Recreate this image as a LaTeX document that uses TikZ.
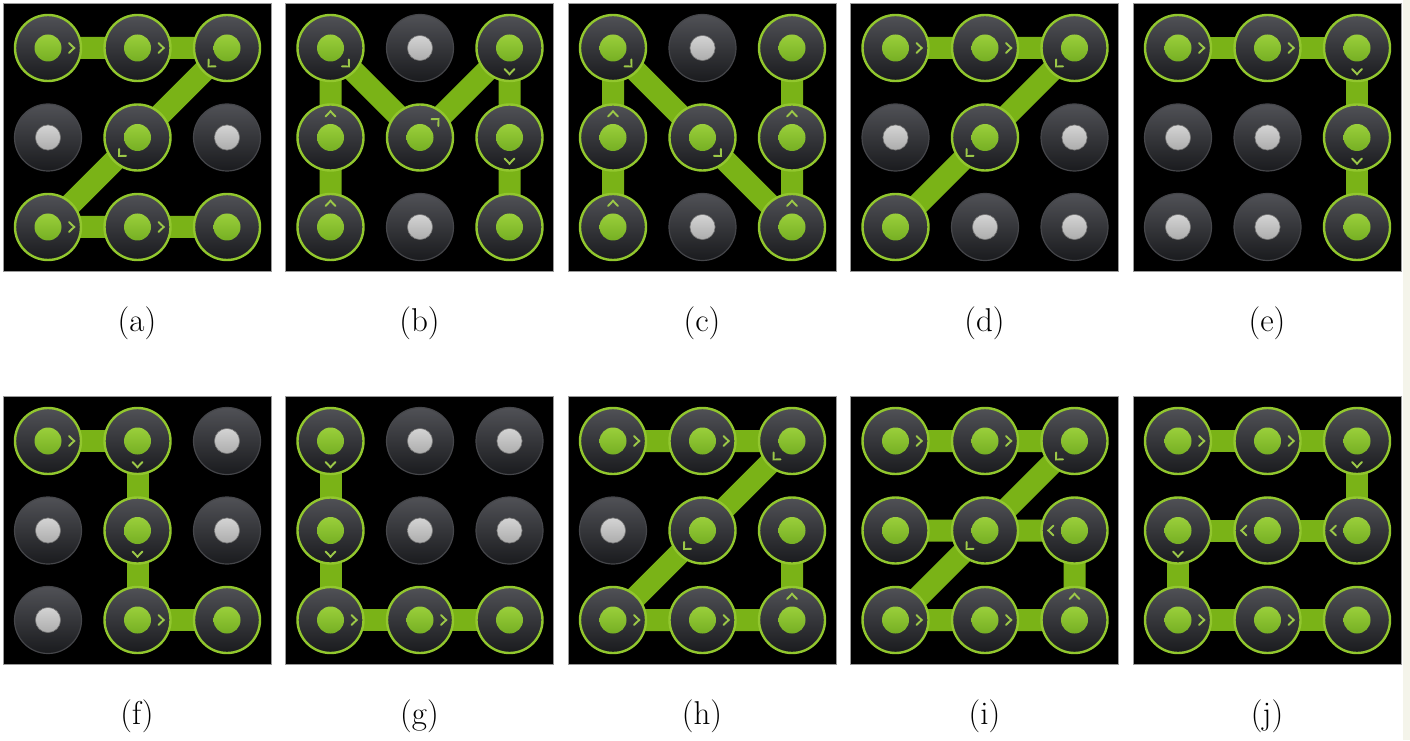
\documentclass[tikz,border=0pt]{standalone}
\definecolor{padframe}{HTML}{9A9A9A}
\definecolor{btntop}{HTML}{505156}
\definecolor{btnbot}{HTML}{1A1B1E}
\definecolor{btnrim}{HTML}{45464A}
\definecolor{ring}{HTML}{92C72E}
\definecolor{bandgreen}{HTML}{7AB317}
\definecolor{chevgreen}{HTML}{9CC848}
\definecolor{dottop}{HTML}{B4E64C}
\definecolor{dotmid}{HTML}{8FCB2A}
\definecolor{dotbot}{HTML}{5C9812}
\definecolor{greytop}{HTML}{F4F4F4}
\definecolor{greymid}{HTML}{C8C8C8}
\definecolor{greybot}{HTML}{8C8C8C}
\definecolor{edgestrip}{HTML}{F4F4EA}

\pgfdeclarelayer{back}
\pgfdeclarelayer{bands}
\pgfsetlayers{back,bands,main}

% one 3x3 lock pad: #1 name, #2 left edge, #3 top edge (measured from the top),
% #4 the nine cell states row by row (1 = selected), #5 caption letter
\newcommand\lockpad[5]{%
  \begin{pgfonlayer}{back}
    \filldraw[padbg] (#2,740-#3) rectangle ++(268,-268);
  \end{pgfonlayer}
  \foreach \s [count=\k from 0] in {#4} {%
    \pgfmathtruncatemacro\rr{div(\k,3)+1}%
    \pgfmathtruncatemacro\cc{mod(\k,3)+1}%
    \node[btn\s] (#1\rr\cc) at (#2+45+89.5*\cc-89.5, 740-#3-45-89.5*\rr+89.5) {};
  }
  \node[lab] (#1lab) at (#2+134, 740-#3-320.5) {(#5)};
}
% direction chevron drawn inside a selected button, pointing at angle #2
\newcommand\chev[2]{%
  \draw[chevron] ([shift={(#2+13:21.6)}]#1.center) -- ([shift={(#2:26.2)}]#1.center)
    -- ([shift={(#2-13:21.6)}]#1.center);}
\newcommand\trace[1]{%
  \begin{pgfonlayer}{bands}\draw[band] #1;\end{pgfonlayer}}

\begin{document}
\begin{tikzpicture}[x=1pt,y=1pt,
  padbg/.style={fill=black, draw=padframe, line width=0.8},
  btn1/.style={circle, minimum size=66, inner sep=0, top color=btntop, bottom color=btnbot,
    draw=ring, line width=2.4,
    path picture={\shade[top color=dottop, middle color=dotmid, bottom color=dotbot]
      (path picture bounding box.center) circle (13.5pt);}},
  btn0/.style={circle, minimum size=67, inner sep=0, top color=btntop, bottom color=btnbot,
    draw=btnrim, line width=1.2,
    path picture={\shade[top color=greytop, middle color=greymid, bottom color=greybot]
      (path picture bounding box.center) circle (12.6pt);
      \draw[black!55, line width=0.6] (path picture bounding box.center) circle (12.6pt);}},
  band/.style={draw=bandgreen, line width=22, line join=round},
  chevron/.style={draw=chevgreen, line width=1.9, line cap=round, line join=miter},
  lab/.style={font=\fontsize{33}{40}\selectfont, inner sep=0}]
\useasboundingbox (0,0) rectangle (1410,740);
\begin{pgfonlayer}{back}
  \fill[white] (0,0) rectangle (1410,740);
  \fill[edgestrip] (1403,0) rectangle (1410,740);
\end{pgfonlayer}

% top row
\lockpad{a}{3}{3}{1,1,1,0,1,0,1,1,1}{a}
\lockpad{b}{285.5}{3}{1,0,1,1,1,1,1,0,1}{b}
\lockpad{c}{568}{3}{1,0,1,1,1,1,1,0,1}{c}
\lockpad{d}{850.5}{3}{1,1,1,0,1,0,1,0,0}{d}
\lockpad{e}{1133}{3}{1,1,1,0,0,1,0,0,1}{e}
% bottom row
\lockpad{f}{3}{396}{1,1,0,0,1,0,0,1,1}{f}
\lockpad{g}{285.5}{396}{1,0,0,1,0,0,1,1,1}{g}
\lockpad{h}{568}{396}{1,1,1,0,1,1,1,1,1}{h}
\lockpad{i}{850.5}{396}{1,1,1,1,1,1,1,1,1}{i}
\lockpad{j}{1133}{396}{1,1,1,1,1,1,1,1,1}{j}

% traced patterns
\trace{(a11.center) -- (a12.center) -- (a13.center) -- (a22.center) -- (a31.center) -- (a32.center) -- (a33.center)}
\trace{(b31.center) -- (b21.center) -- (b11.center) -- (b22.center) -- (b13.center) -- (b23.center) -- (b33.center)}
\trace{(c31.center) -- (c21.center) -- (c11.center) -- (c22.center) -- (c33.center) -- (c23.center) -- (c13.center)}
\trace{(d11.center) -- (d12.center) -- (d13.center) -- (d22.center) -- (d31.center)}
\trace{(e11.center) -- (e12.center) -- (e13.center) -- (e23.center) -- (e33.center)}
\trace{(f11.center) -- (f12.center) -- (f22.center) -- (f32.center) -- (f33.center)}
\trace{(g11.center) -- (g21.center) -- (g31.center) -- (g32.center) -- (g33.center)}
\trace{(h11.center) -- (h12.center) -- (h13.center) -- (h22.center) -- (h31.center) -- (h32.center) -- (h33.center) -- (h23.center)}
\trace{(i11.center) -- (i12.center) -- (i13.center) -- (i22.center) -- (i31.center) -- (i32.center) -- (i33.center) -- (i23.center) -- (i21.center)}
\trace{(j11.center) -- (j12.center) -- (j13.center) -- (j23.center) -- (j22.center) -- (j21.center) -- (j31.center) -- (j32.center) -- (j33.center)}

% direction marks
\chev{a11}{0}\chev{a12}{0}\chev{a13}{-135}\chev{a22}{-135}\chev{a31}{0}\chev{a32}{0}
\chev{b31}{90}\chev{b21}{90}\chev{b11}{-45}\chev{b22}{45}\chev{b13}{-90}\chev{b23}{-90}
\chev{c31}{90}\chev{c21}{90}\chev{c11}{-45}\chev{c22}{-45}\chev{c33}{90}\chev{c23}{90}
\chev{d11}{0}\chev{d12}{0}\chev{d13}{-135}\chev{d22}{-135}
\chev{e11}{0}\chev{e12}{0}\chev{e13}{-90}\chev{e23}{-90}
\chev{f11}{0}\chev{f12}{-90}\chev{f22}{-90}\chev{f32}{0}
\chev{g11}{-90}\chev{g21}{-90}\chev{g31}{0}\chev{g32}{0}
\chev{h11}{0}\chev{h12}{0}\chev{h13}{-135}\chev{h22}{-135}\chev{h31}{0}\chev{h32}{0}\chev{h33}{90}
\chev{i11}{0}\chev{i12}{0}\chev{i13}{-135}\chev{i22}{-135}\chev{i31}{0}\chev{i32}{0}\chev{i33}{90}\chev{i23}{180}
\chev{j11}{0}\chev{j12}{0}\chev{j13}{-90}\chev{j23}{180}\chev{j22}{180}\chev{j21}{-90}\chev{j31}{0}\chev{j32}{0}
\end{tikzpicture}
\end{document}
